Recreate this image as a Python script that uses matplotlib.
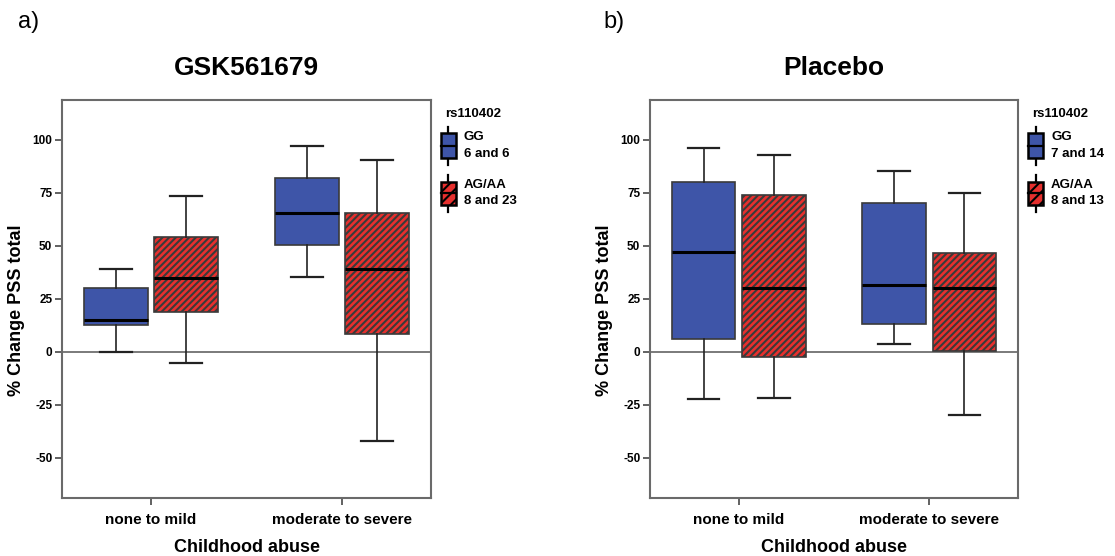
import matplotlib
matplotlib.use("Agg")
import matplotlib.pyplot as plt
from matplotlib.patches import Rectangle
from matplotlib.lines import Line2D

plt.rcParams['font.family'] = ['Liberation Sans', 'DejaVu Sans']
plt.rcParams['hatch.linewidth'] = 1.5
plt.rcParams['hatch.color'] = 'black'

categories = ['none to mild', 'moderate to severe']
groups = ['GG', 'AG/AA']
titles = ['GSK561679', 'Placebo']
panel_tags = ['a)', 'b)']
legend_n = [['6 and 6', '8 and 23'], ['7 and 14', '8 and 13']]

# box summaries per panel: [whislo, q1, median, q3, whishi] for each category
gsk_gg = [[0, 12.4, 15.1, 30.3, 39.2], [35.1, 50.2, 65.3, 82.2, 97.3]]
gsk_ag = [[-5.3, 18.7, 34.7, 54.2, 73.4], [-42.1, 8.3, 39.0, 65.6, 90.4]]
pla_gg = [[-22.2, 6.1, 47.3, 79.9, 96.1], [3.8, 13.1, 31.3, 70.1, 85.4]]
pla_ag = [[-21.9, -2.4, 30.2, 74.1, 92.6], [-30.0, 0.3, 30.2, 46.4, 75.0]]
panels = [(gsk_gg, gsk_ag), (pla_gg, pla_ag)]

yticks = [-50, -25, 0, 25, 50, 75, 100]

blue = '#3E55A8'
red = '#E6302E'
colors = [blue, red]
hatches = [None, '/////']
edge = '#3a3a3a'

W, H = 1115, 556
fig = plt.figure(figsize=(W / 100, H / 100), dpi=100)

ax_pos = [[62 / W, 0.105, 369 / W, 0.716], [650 / W, 0.105, 368 / W, 0.716]]


def to_stats(rows):
    out = []
    for lo, q1, med, q3, hi in rows:
        out.append(dict(whislo=lo, q1=q1, med=med, q3=q3, whishi=hi, fliers=[]))
    return out


def fx(px):
    return px / W


def fy(py):
    return 1 - py / H


for p in range(2):
    ax = fig.add_axes(ax_pos[p])
    ax.axhline(0, color='#6f6f6f', lw=1.3, zorder=1)
    for g in range(2):
        offset = -0.185 if g == 0 else 0.185
        pos = [i + offset for i in range(len(categories))]
        res = ax.bxp(to_stats(panels[p][g]), positions=pos, widths=0.335,
                     capwidths=0.167, patch_artist=True, showfliers=False,
                     boxprops=dict(facecolor=colors[g], edgecolor=edge, lw=1.2),
                     medianprops=dict(color='black', lw=2.2),
                     whiskerprops=dict(color='#222222', lw=1.2),
                     capprops=dict(color='#222222', lw=1.6),
                     manage_ticks=False, zorder=2)
        if hatches[g]:
            for b in res['boxes']:
                b.set_hatch(hatches[g])

    ax.set_xlim(-0.466, 1.466)
    ax.set_ylim(-68.8, 119.0)
    ax.set_yticks(yticks)
    ax.set_yticklabels([str(t) for t in yticks], fontsize=8.5, fontweight='bold')
    ax.set_xticks(range(len(categories)))
    ax.set_xticklabels(categories, fontsize=11, fontweight='bold')
    ax.tick_params(axis='both', direction='out', length=5, width=1.3, color='#555555')
    ax.tick_params(axis='x', pad=6)
    ax.tick_params(axis='y', pad=2)
    for s in ax.spines.values():
        s.set_color('#6a6a6a')
        s.set_linewidth(1.5)
    ax.set_xlabel('Childhood abuse', fontsize=13, fontweight='bold', labelpad=9)
    ax.set_ylabel('% Change PSS total', fontsize=13, fontweight='bold')
    ax.yaxis.set_label_coords(-0.1, 0.47)
    ax.set_title(titles[p], fontsize=19, fontweight='bold', pad=18)

    # legend drawn to the right of the frame
    right_px = (ax_pos[p][0] + ax_pos[p][2]) * W
    tf = fig.transFigure

    fig.text(fx(right_px + 42), fy(114), 'rs110402', ha='center', va='center',
             fontsize=9.5, fontweight='bold')
    boxes_y = [(133, 158, 127, 165, 146), (182, 205, 175, 212, 193)]
    for g in range(2):
        top, bot, wt, wb, med = boxes_y[g]
        x0 = right_px + 10
        x1 = right_px + 25
        xm = (x0 + x1) / 2
        fig.add_artist(Line2D([fx(xm), fx(xm)], [fy(wt), fy(wb)], transform=tf,
                              color='black', lw=1.6, zorder=1))
        rect = Rectangle((fx(x0), fy(bot)), fx(x1 - x0), (bot - top) / H, transform=tf,
                         facecolor=colors[g], edgecolor='black', lw=1.8,
                         hatch='///' if hatches[g] else None, zorder=2)
        fig.add_artist(rect)
        fig.add_artist(Line2D([fx(x0), fx(x1)], [fy(med), fy(med)], transform=tf,
                              color='black', lw=1.6, zorder=3))
        fig.text(fx(right_px + 33), fy((top + med) / 2 - 2), groups[g], ha='left',
                 va='center', fontsize=9.5, fontweight='bold')
        fig.text(fx(right_px + 33), fy((med + bot) / 2 + 2), legend_n[p][g], ha='left',
                 va='center', fontsize=9.5, fontweight='bold')

fig.text(18 / W, 1 - 22 / H, panel_tags[0], fontsize=17, va='center', ha='left')
fig.text(603 / W, 1 - 22 / H, panel_tags[1], fontsize=17, va='center', ha='left')

fig.savefig('out.png', dpi=100)
